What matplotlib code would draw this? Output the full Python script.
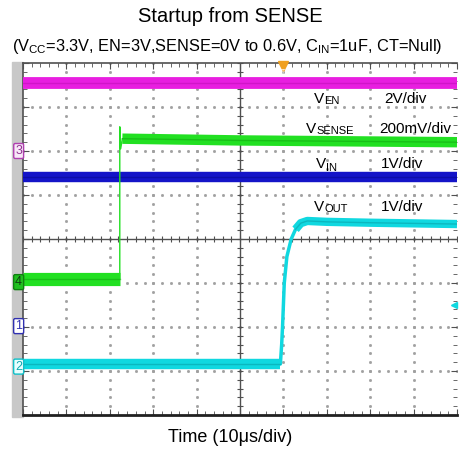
import numpy as np
import matplotlib
matplotlib.use("Agg")
import matplotlib.pyplot as plt
from matplotlib.patches import Rectangle

plt.rcParams['font.family'] = ['Liberation Sans', 'DejaVu Sans']
plt.rcParams['mathtext.fontset'] = 'custom'
plt.rcParams['mathtext.rm'] = 'Liberation Sans'

# ---------------- data (scope divisions) ----------------
t_en = [0, 10]
v_en = [3.55, 3.55]

t_in = [0, 10]
v_in = [1.41, 1.41]

t_sense = [0, 2.23, 2.23, 2.25, 2.29, 3.0, 5.0, 7.5, 10]
v_sense = [-0.91, -0.91, 2.55, 2.05, 2.28, 2.27, 2.24, 2.22, 2.2]

t_out = [0, 5.93, 5.96, 5.98, 6.02, 6.08, 6.18, 6.28, 6.40, 6.55, 7.0, 8.0, 10]
v_out = [-2.84, -2.84, -2.4, -2.0, -1.0, -0.4, 0.0, 0.22, 0.36, 0.41, 0.39, 0.37, 0.34]

channel_labels = ['3', '4', '1', '2']
channel_levels = [2.0, -0.98, -1.98, -2.9]

scale_names = ['EN', 'SENSE', 'IN', 'OUT']
scale_texts = ['2V/div', '200mV/div', '1V/div', '1V/div']

C_EN = '#e81ee0'
C_SENSE = '#22e022'
C_IN = '#1414c8'
C_OUT = '#10d8e0'

W, H = 459, 466
fig = plt.figure(figsize=(W / 100, H / 100), dpi=100)
ax = fig.add_axes([23 / W, (H - 415) / H, (457 - 23) / W, 352 / H])
ax.set_xlim(0, 10)
ax.set_ylim(-4, 4)

# gray side bar
fig.patches.append(Rectangle((12 / W, (H - 417) / H), 11 / W, 355 / H,
                             transform=fig.transFigure, color='#c8c8c8', zorder=-5))

# dotted grid
sub = np.arange(0, 10.001, 0.2)
subv = np.arange(-4, 4.001, 0.2)
for gx in range(1, 10):
    if gx == 5:
        continue
    ax.plot(np.full_like(subv, gx), subv, ls='none', marker='s', ms=1.0,
            color='#a0a0a0', zorder=1)
for gy in range(-3, 4):
    if gy == 0:
        continue
    ax.plot(sub, np.full_like(sub, gy), ls='none', marker='s', ms=1.0,
            color='#a0a0a0', zorder=1)

# center cross with ticks
ax.axhline(0, color='#505050', lw=1.0, zorder=1)
ax.axvline(5, color='#505050', lw=1.0, zorder=1)
ax.plot(sub, np.zeros_like(sub), ls='none', marker='|', ms=5, mew=0.8,
        color='#505050', zorder=1)
ax.plot(np.full_like(subv, 5), subv, ls='none', marker='_', ms=5, mew=0.8,
        color='#505050', zorder=1)

# edge ticks
ax.set_xticks(np.arange(0, 10.01, 1))
ax.set_yticks(np.arange(-4, 4.01, 1))
ax.set_xticks(sub, minor=True)
ax.set_yticks(subv, minor=True)
ax.tick_params(which='both', direction='in', top=True, right=True,
               labelbottom=False, labelleft=False, color='#505050')
ax.tick_params(which='major', length=4, width=0.8)
ax.tick_params(which='minor', length=3, width=0.6)
for s in ['top', 'left']:
    ax.spines[s].set_color('#505050')
    ax.spines[s].set_linewidth(1.2)
ax.spines['bottom'].set_color('#202020')
ax.spines['bottom'].set_linewidth(2.0)
ax.spines['right'].set_visible(False)

# ---------------- traces ----------------
ax.plot(t_en, v_en, color=C_EN, lw=8.5, solid_capstyle='butt', zorder=3)
ax.plot(t_en, v_en, color='#c010b8', lw=1.0, alpha=0.6, zorder=3)
ax.plot(t_in, v_in, color=C_IN, lw=7.5, solid_capstyle='butt', zorder=3)
ax.plot(t_in, v_in, color='#08088a', lw=1.0, alpha=0.5, zorder=3)
ax.plot(t_sense, v_sense, color=C_SENSE, lw=1.0, zorder=4)
ax.plot(t_sense[:2], v_sense[:2], color=C_SENSE, lw=9.5, solid_capstyle='butt', zorder=4)
ax.plot(t_sense[4:], v_sense[4:], color=C_SENSE, lw=7.5, solid_capstyle='butt', zorder=4)
ax.plot(t_sense[:2], v_sense[:2], color='#10a010', lw=1.0, alpha=0.5, zorder=4)
ax.plot(t_sense[4:], v_sense[4:], color='#10a010', lw=1.0, alpha=0.5, zorder=4)
ax.plot(t_out, v_out, color=C_OUT, lw=2.5, zorder=4)
ax.plot(t_out[:2], v_out[:2], color=C_OUT, lw=7.5, solid_capstyle='butt', zorder=4)
ax.plot(t_out[7:], v_out[7:], color=C_OUT, lw=6.0, solid_capstyle='butt', zorder=4)
ax.plot(t_out[:2], v_out[:2], color='#0898a0', lw=1.0, alpha=0.5, zorder=4)
ax.plot(t_out[7:], v_out[7:], color='#0898a0', lw=1.0, alpha=0.5, zorder=4)

# ---------------- annotations ----------------
lab_x = [6.71, 6.53, 6.76, 6.71]
lab_y = [3.18, 2.50, 1.70, 0.73]
val_x = [8.32, 8.20, 8.25, 8.25]
for name, txt, lx, ly, vx in zip(scale_names, scale_texts, lab_x, lab_y, val_x):
    ax.text(lx, ly, 'V', fontsize=11, ha='left', va='center', zorder=6)
    dy = -3 if name == 'IN' else -1.2
    ax.annotate(name, (lx, ly), xytext=(7.2, dy), textcoords='offset points',
                fontsize=8, ha='left', va='center', zorder=6)
    ax.text(vx, ly, txt, fontsize=11, ha='left', va='center', zorder=6)

# channel markers
mk_style = {
    '3': dict(fc='#f8e8f8', ec='#b040b0', tc='#903090'),
    '4': dict(fc='#20c020', ec='#108010', tc='#104010'),
    '1': dict(fc='#ffffff', ec='#3030b0', tc='#3030b0'),
    '2': dict(fc='#e8ffff', ec='#10c0c8', tc='#10a8b0'),
}
for lab, lev in zip(channel_labels, channel_levels):
    st = mk_style[lab]
    ax.text(-0.1, lev, lab, fontsize=9, ha='center', va='center', color=st['tc'],
            clip_on=False, zorder=7,
            bbox=dict(boxstyle='round,pad=0.12', fc=st['fc'], ec=st['ec'], lw=1.0))

# trigger marker
ax.plot([5.98], [3.93], marker='v', ms=7, color='#f0a020', clip_on=False, zorder=8)
ax.text(5.98, 3.78, 'T', fontsize=5, ha='center', va='center', color='white', zorder=9)
# cyan offset arrow on right
ax.plot([9.93], [-1.5], marker='<', ms=5, color=C_OUT, clip_on=False, zorder=8)

# titles
fig.text(0.502, 1 - 17 / H, 'Startup from SENSE', fontsize=14.5, ha='center', va='center')
fig.text(0.495, 1 - 47 / H,
         r'(V$_{\mathregular{CC}}$=3.3V, EN=3V,SENSE=0V to 0.6V, C$_{\mathregular{IN}}$=1uF, CT=Null)',
         fontsize=11.8, ha='center', va='center')
fig.text(0.502, 1 - 437 / H, 'Time (10μs/div)', fontsize=13, ha='center', va='center')

fig.savefig('out.png', dpi=100)
